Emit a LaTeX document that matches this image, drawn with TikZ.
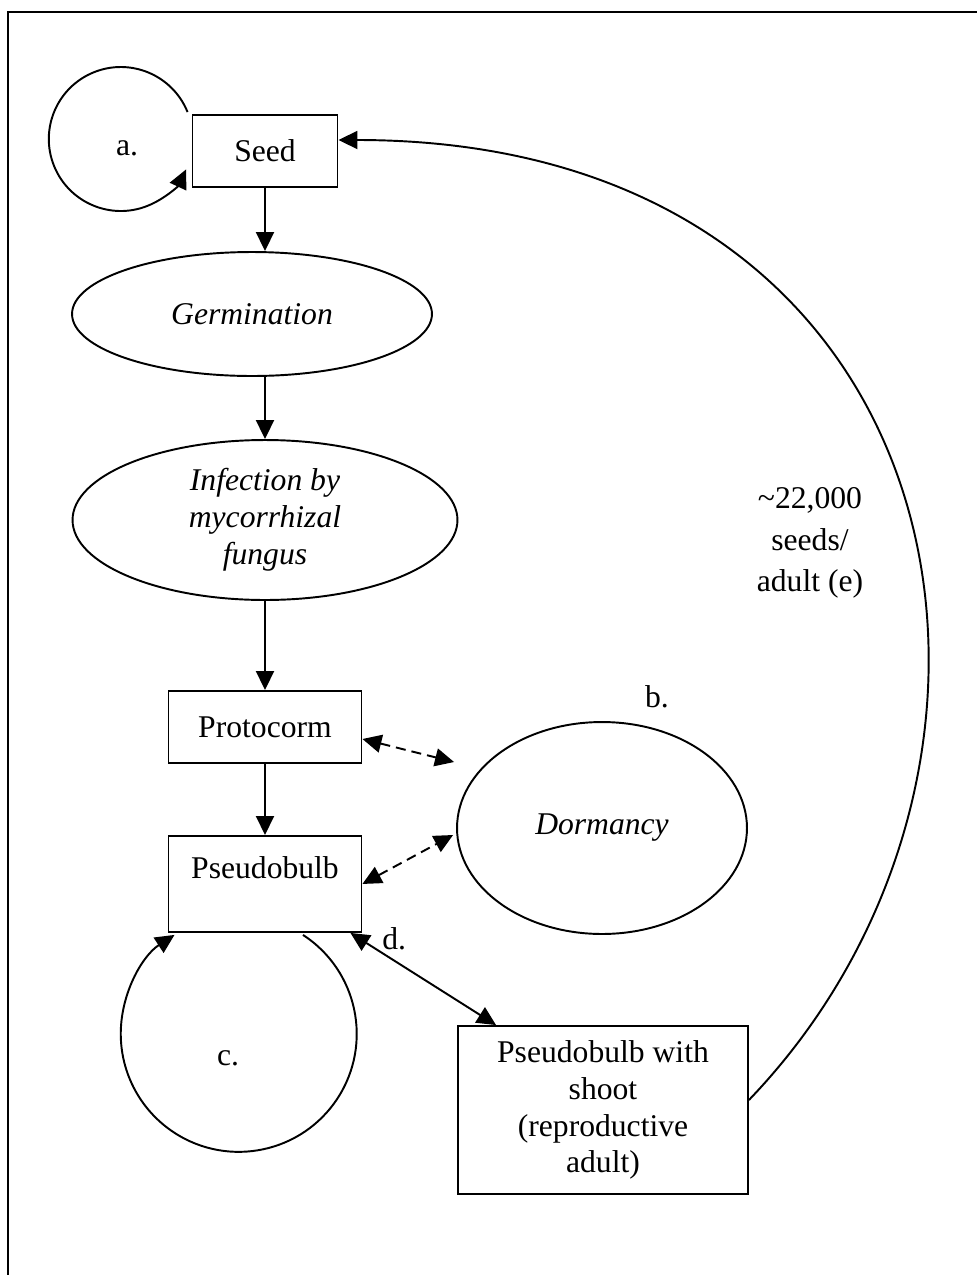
\documentclass[tikz,border=0pt]{standalone}
\usepackage{fontspec}
\setmainfont{Liberation Serif}
\usetikzlibrary{arrows.meta, shapes.geometric, positioning}

\begin{document}
\begin{tikzpicture}[
						x=0.02cm, y=-0.02cm,
						font=\fontsize{18}{21}\selectfont,
						box/.style = {draw, rectangle, line width=1.1pt, inner sep=0pt, align=center},
						oval/.style = {draw, ellipse, line width=1.1pt, inner sep=0pt, align=center, font=\fontsize{18}{21}\selectfont\itshape},
						arr/.style = {-{Triangle[length=0.38cm, width=0.36cm]}, line width=1.1pt},
						darr/.style = {{Triangle[length=0.38cm, width=0.36cm]}-{Triangle[length=0.38cm, width=0.36cm]}, line width=1.1pt},
						dasharr/.style = {darr, dash pattern=on 0.2cm off 0.12cm}
					]
\useasboundingbox (0,0) rectangle (977,1275);
% frame
\draw[line width=1.7pt] (8,1275) -- (8,12) -- (977,12);

\node[box, minimum width=2.9cm, minimum height=1.44cm] (seed) at (265,151) {Seed};
\node[oval, minimum width=7.2cm, minimum height=2.48cm] (germ) at (252,314) {Germination};
\node[oval, minimum width=7.7cm, minimum height=3.2cm] (inf) at (265,520) {Infection by\\mycorrhizal\\fungus};
\node[box, minimum width=3.86cm, minimum height=1.44cm] (proto) at (265,727) {Protocorm};
\node[box, minimum width=3.86cm, text height=0.86cm, text depth=1.06cm, anchor=north] (pb) at (265,835) {Pseudobulb};
\node[oval, minimum width=5.8cm, minimum height=4.24cm] (dorm) at (602,828) {Dormancy};
\node[box, minimum width=5.8cm, minimum height=3.36cm] (shoot) at (603,1110) {Pseudobulb with\\shoot\\(reproductive\\adult)};

\node (a) at (127,148) {a.};
\node (b) at (657,697) {b.};
\node (c) at (228,1058) {c.};
\node[align=center, font=\fontsize{18}{23.5}\selectfont] (e) at (810,543) {\textasciitilde22,000\\seeds/\\adult (e)};

\draw[arr] (seed.south) -- (seed.south |- germ.north);
\draw[arr] (inf.north |- germ.south) -- (inf.north);
\draw[arr] (inf.south) -- (proto.north);
\draw[arr] (proto.south) -- (pb.north);

\draw[dasharr] ([yshift=-0.24cm]proto.east) -- ([xshift=-0.04cm, yshift=1.32cm]dorm.west);
\draw[dasharr] (pb.east) -- ([xshift=-0.06cm, yshift=-0.14cm]dorm.west);
\draw[darr] ([xshift=-0.24cm]pb.south east) -- node[pos=0.3, above=2pt] {d.} ([xshift=0.78cm]shoot.north west);

\draw[arr] ([xshift=-0.08cm, yshift=0.04cm]seed.north west) arc[start angle=22, end angle=335, radius=1.44cm];
\draw[arr] ([xshift=0.76cm, yshift=-0.04cm]pb.south) arc[start angle=57, end angle=-237, radius=2.36cm];
\draw[arr] ([yshift=0.2cm]shoot.east) .. controls (1075,760) and (965,140) .. ([yshift=0.22cm]seed.east);
\end{tikzpicture}
\end{document}
